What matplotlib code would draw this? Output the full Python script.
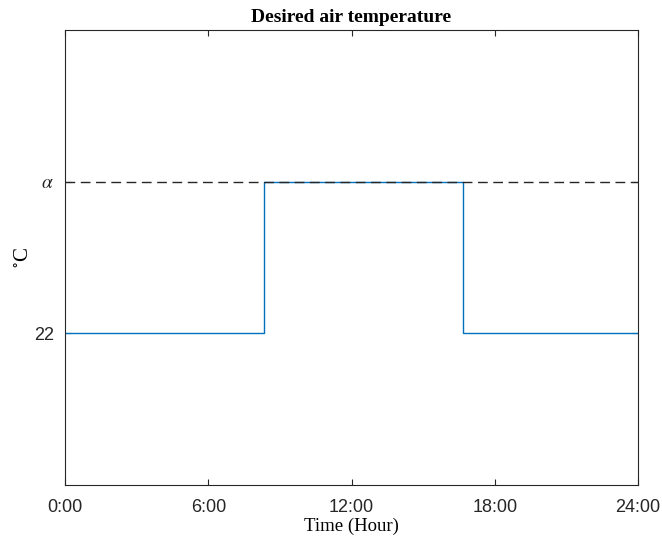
import matplotlib
matplotlib.use("Agg")
import matplotlib.pyplot as plt

# Data
switch_hours = [0, 8.33, 16.67, 24]
setpoint = [22, 24, 22, 22]
alpha_level = 24
xticks = [0, 6, 12, 18, 24]
xtick_labels = ["0:00", "6:00", "12:00", "18:00", "24:00"]
yticks = [22, 24]
ytick_labels = ["22", r"$\alpha$"]

plt.rcParams["mathtext.fontset"] = "stix"
fig = plt.figure(figsize=(6.62, 5.40), dpi=100)
ax = fig.add_axes([65/662, 1-485/540, (638-65)/662, (485-30)/540])

ax.step(switch_hours, setpoint, where="post", color="#0072BD", lw=1.0, zorder=2)
ax.axhline(alpha_level, color="#262626", lw=1.0, ls=(0, (7, 4)), zorder=3)

ax.set_xlim(0, 24)
ax.set_ylim(20, 26)
ax.set_xticks(xticks)
ax.set_xticklabels(xtick_labels, family="Liberation Sans", fontsize=13)
ax.set_yticks(yticks)
ax.set_yticklabels(ytick_labels, family="Liberation Sans", fontsize=13)
for lab in ax.get_yticklabels():
    if "alpha" in lab.get_text():
        lab.set_fontsize(14)

ax.tick_params(direction="in", top=True, right=True, length=4, width=0.8,
               colors="#262626")
ax.tick_params(axis="x", pad=10)
ax.tick_params(axis="y", pad=8)
for sp in ax.spines.values():
    sp.set_linewidth(0.8)
    sp.set_color("#262626")

ax.set_xlabel("Time (Hour)", family="Liberation Serif", fontsize=13.5, labelpad=1)
ax.set_ylabel(r"$^{\circ}$C", family="Liberation Serif", fontsize=15, labelpad=1)
ax.set_title("Desired air temperature", family="Liberation Serif",
             fontweight="bold", fontsize=14, pad=6)

fig.savefig("out.png", dpi=100)
